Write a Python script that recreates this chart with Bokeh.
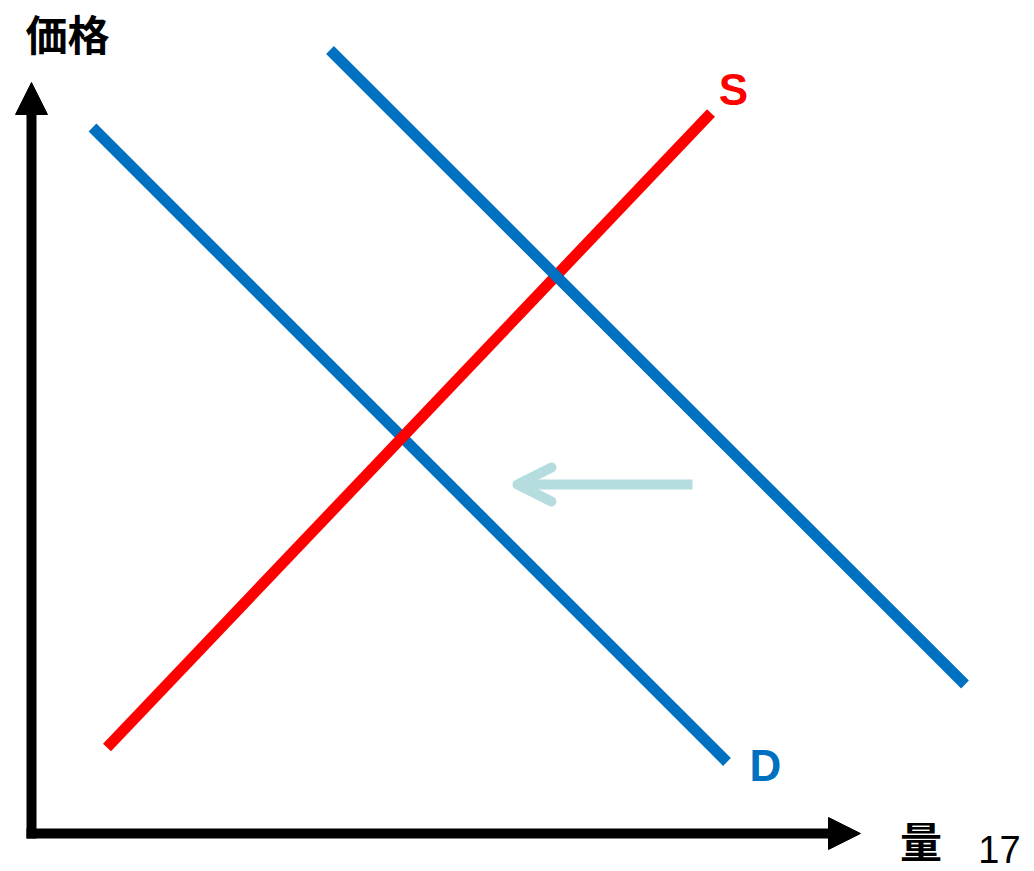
from bokeh.plotting import figure
from bokeh.models import Range1d, Arrow, NormalHead, OpenHead, Label
from bokeh.embed import file_html
from bokeh.resources import INLINE

# Data (quantity, price) in chart units
demand_q = [61.0, 695.5]
demand_p = [706.0, 71.5]
demand_shift_q = [298.5, 933.5]
demand_shift_p = [783.5, 149.0]
supply_q = [75.5, 679.5]
supply_p = [86.0, 720.5]
shift_arrow_q = [661.0, 486.0]
shift_arrow_p = [349.0, 349.0]
axis_q_max = 829.0
axis_p_max = 751.0

y_title = "価格"
x_title = "量"
supply_label = "S"
demand_label = "D"
page_number = "17"

RED = "#ff0000"
BLUE = "#0070c0"
LIGHT = "#b5dde0"

p = figure(width=1034, height=871, output_backend="svg", toolbar_location=None,
           x_range=Range1d(-31, 1003), y_range=Range1d(-38, 833),
           min_border=0)
p.axis.visible = False
p.grid.visible = False
p.outline_line_color = None
p.background_fill_color = "white"
p.border_fill_color = "white"

# axes with arrow heads
p.add_layout(Arrow(x_start=0, y_start=-5, x_end=0, y_end=axis_p_max,
                   line_width=10, line_color="black", line_cap="butt",
                   end=NormalHead(size=32, fill_color="black", line_color="black", line_width=1)))
p.add_layout(Arrow(x_start=-5, y_start=0, x_end=axis_q_max, y_end=0,
                   line_width=10, line_color="black", line_cap="butt",
                   end=NormalHead(size=32, fill_color="black", line_color="black", line_width=1)))

# curves
p.line(demand_q, demand_p, line_color=BLUE, line_width=11)
p.line(supply_q, supply_p, line_color=RED, line_width=11)
p.line(demand_shift_q, demand_shift_p, line_color=BLUE, line_width=11)

# shift arrow
p.add_layout(Arrow(x_start=shift_arrow_q[0], y_start=shift_arrow_p[0],
                   x_end=shift_arrow_q[1], y_end=shift_arrow_p[1],
                   line_width=10, line_color=LIGHT, line_cap="butt",
                   end=OpenHead(size=34, line_color=LIGHT, line_width=10,
                                line_cap="round", line_join="round")))

# labels
p.add_layout(Label(x=36, y=801, text=y_title, text_font="Noto Sans CJK JP",
                   text_font_style="bold", text_font_size="42px",
                   text_align="center", text_baseline="middle", text_color="black"))
p.add_layout(Label(x=889.5, y=-6, text=x_title, text_font="Noto Sans CJK JP",
                   text_font_style="bold", text_font_size="42px",
                   text_align="center", text_baseline="middle", text_color="black"))
p.add_layout(Label(x=702, y=744, text=supply_label, text_font="Liberation Sans",
                   text_font_style="bold", text_font_size="44px",
                   text_align="center", text_baseline="middle", text_color=RED))
p.add_layout(Label(x=734, y=68.5, text=demand_label, text_font="Liberation Sans",
                   text_font_style="bold", text_font_size="44px",
                   text_align="center", text_baseline="middle", text_color=BLUE))
p.add_layout(Label(x=968, y=-16, text=page_number, text_font="Liberation Sans",
                   text_font_size="38px",
                   text_align="center", text_baseline="middle", text_color="black"))

open("out.html", "w").write(file_html(p, INLINE))
